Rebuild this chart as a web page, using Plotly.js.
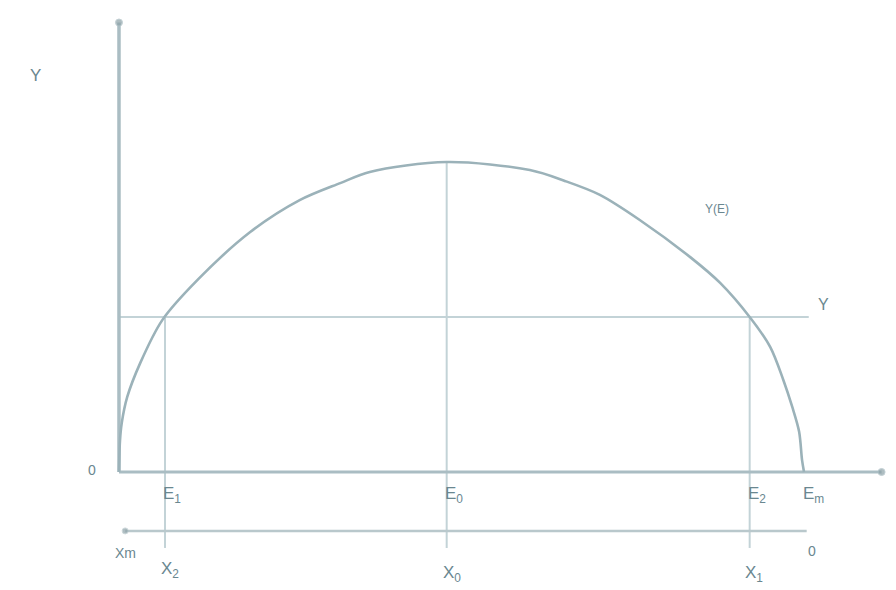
<!DOCTYPE html>
<html>
<head>
<meta charset="utf-8">
<script src="https://cdn.plot.ly/plotly-3.0.1.min.js"></script>
<style>
  html, body { margin: 0; padding: 0; background: #fff; }
  #myplot { width: 896px; height: 590px; }
</style>
</head>
<body>
<div id="myplot"></div>
<script>
// courbe Y(E) (E de 0 a Em = 10, Y de 0 au sommet = 10)
let courbe_e = [0, 0.015, 0.04, 0.12, 0.31, 0.63, 1.14, 1.91, 2.63, 3.22, 3.65, 4.77, 5.98, 6.49, 7.0, 7.58, 8.31, 8.75, 9.18, 9.48, 9.67, 9.80, 9.90, 9.942, 9.971];
let courbe_y = [0, 1.03, 1.58, 2.42, 3.52, 4.9, 6.19, 7.74, 8.77, 9.32, 9.68, 10, 9.74, 9.39, 8.94, 8.13, 6.94, 6.1, 5.0, 4.03, 2.97, 2.10, 1.30, 0.39, 0];

// niveau Y et points remarquables
let niveau_y = 5.0;
let e_points = [0.67, 4.77, 9.18];
let e_hauts = [5.0, 10, 5.0];
let e_labels = ['E<sub>1</sub>', 'E<sub>0</sub>', 'E<sub>2</sub>'];
let x_labels = ['X<sub>2</sub>', 'X<sub>0</sub>', 'X<sub>1</sub>'];
let e_max = 9.99;

// axe x inferieur (oriente vers la gauche)
let axe_bas_y = -1.9;
let bas_lignes = -2.45;

let couleur_axe = '#aabdc3';
let couleur_courbe = '#9bb2b9';
let couleur_guide = '#c3d3d7';
let couleur_texte = '#6a8790';

function run() {
  let data = [];

  // lignes verticales
  e_points.forEach((e, i) => {
    data.push({
      x: [e, e], y: [e_hauts[i], bas_lignes],
      mode: 'lines', type: 'scatter',
      line: { color: couleur_guide, width: 2 },
      hoverinfo: 'skip'
    });
  });

  // ligne horizontale Y
  data.push({
    x: [0, e_max + 0.05], y: [niveau_y, niveau_y],
    mode: 'lines', type: 'scatter',
    line: { color: couleur_guide, width: 2.2 },
    hoverinfo: 'skip'
  });

  // axes
  data.push({
    x: [0, 11.1], y: [0, 0],
    mode: 'lines+markers', type: 'scatter',
    line: { color: couleur_axe, width: 3 },
    marker: { size: [0, 7], color: '#8da2a8' },
    hoverinfo: 'skip'
  });
  data.push({
    x: [0, 0], y: [0, 14.5],
    mode: 'lines+markers', type: 'scatter',
    line: { color: couleur_axe, width: 3.5 },
    marker: { size: [0, 7], color: '#8da2a8' },
    hoverinfo: 'skip'
  });
  data.push({
    x: [e_max + 0.02, 0.09], y: [axe_bas_y, axe_bas_y],
    mode: 'lines+markers', type: 'scatter',
    line: { color: '#b9c8cc', width: 2.5 },
    marker: { size: [0, 6], color: '#8da2a8' },
    hoverinfo: 'skip'
  });

  // courbe Y(E)
  data.push({
    x: courbe_e, y: courbe_y,
    mode: 'lines', type: 'scatter',
    line: { color: couleur_courbe, width: 2.6, shape: 'spline', smoothing: 0.9 },
    hoverinfo: 'skip'
  });

  let police = { family: 'Liberation Sans, Arial, sans-serif', color: couleur_texte };
  let notes = [];
  function note(x, y, txt, taille, xref, yref) {
    notes.push({
      x: x, y: y, text: txt, showarrow: false,
      xref: xref || 'x', yref: yref || 'y',
      font: Object.assign({ size: taille }, police)
    });
  }

  note(-1.22, 12.8, 'Y', 17);
  note(-0.39, 0.05, '0', 14);
  note(8.7, 8.5, 'Y(E)', 12);
  note(10.25, 5.4, 'Y', 16);
  e_points.forEach((e, i) => {
    note(e + 0.1, -0.75, e_labels[i], 17);
    note(e + 0.07, i === 0 ? -3.15 : -3.3, x_labels[i], 17);
  });
  note(e_max + 0.12, -0.75, 'E<sub>m</sub>', 17);
  note(0.1, -2.6, 'Xm', 14);
  note(e_max + 0.1, -2.55, '0', 14);
  note(11.33, 0.05, 'E', 18);

  let forme = {
    width: 896,
    height: 590,
    margin: { l: 0, r: 0, t: 0, b: 0 },
    paper_bgcolor: '#ffffff',
    plot_bgcolor: '#ffffff',
    showlegend: false,
    xaxis: { range: [-1.732, 11.31], visible: false, fixedrange: true },
    yaxis: { range: [-3.806, 15.226], visible: false, fixedrange: true },
    annotations: notes
  };

  Plotly.newPlot('myplot', data, forme, { displayModeBar: false, staticPlot: true });
}

run();
</script>
</body>
</html>
